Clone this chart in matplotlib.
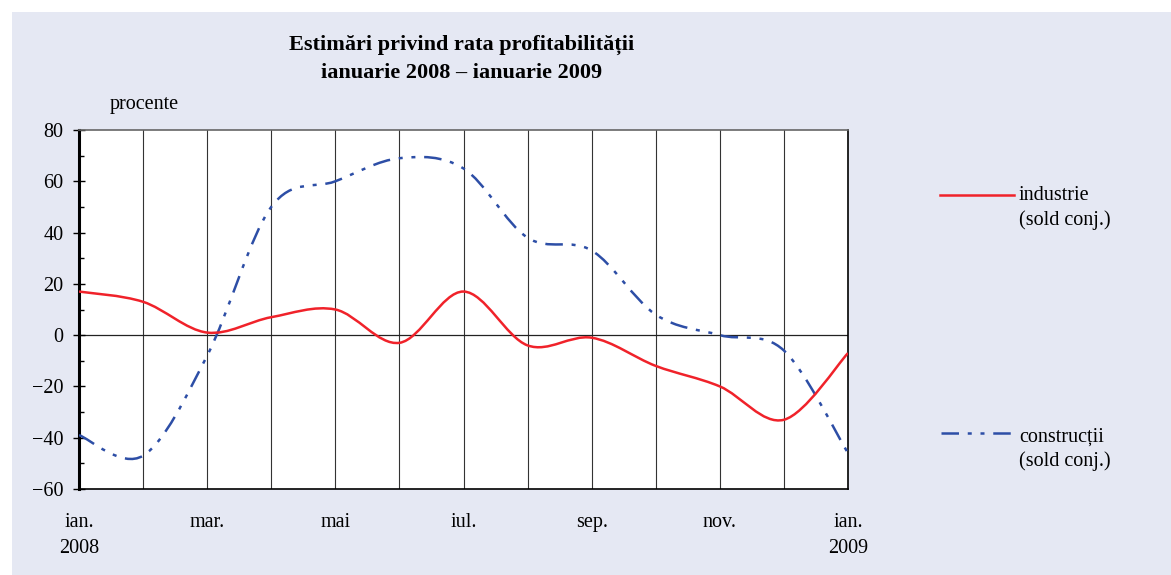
import matplotlib
matplotlib.use("Agg")
import matplotlib.pyplot as plt
import numpy as np
from matplotlib.path import Path
from matplotlib.patches import PathPatch, Rectangle
from matplotlib.lines import Line2D
from matplotlib.ticker import MultipleLocator, FixedLocator

plt.rcParams['font.family'] = ['Liberation Serif', 'DejaVu Serif']

# data: monthly values, ian. 2008 .. ian. 2009
months = np.arange(13)
industrie = [17, 13, 1, 7, 10, -3, 17, -4, -1, -12, -20, -33, -7]
constructii = [-39, -47, -8, 50, 60, 69, 65, 38, 33, 8, 0, -6, -46]
tick_pos = [0, 2, 4, 6, 8, 10, 12]
tick_labels = ['ian.\n2008', 'mar.', 'mai', 'iul.', 'sep.', 'nov.', 'ian.\n2009']

red = '#F0222A'
blue = '#2D4EA6'
bg = '#E5E8F3'


def smooth_path(x, y):
    # Catmull-Rom through the points, written as cubic Bezier segments
    p = np.column_stack([x, y]).astype(float)
    ext = np.vstack([p[0], p, p[-1]])
    verts = [p[0]]
    codes = [Path.MOVETO]
    for i in range(len(p) - 1):
        p0, p1, p2, p3 = ext[i], ext[i + 1], ext[i + 2], ext[i + 3]
        c1 = p1 + (p2 - p0) / 6.0
        c2 = p2 - (p3 - p1) / 6.0
        verts += [c1, c2, p2]
        codes += [Path.CURVE4] * 3
    return Path(verts, codes)


fig = plt.figure(figsize=(11.71, 5.75), dpi=100)
fig.patch.set_facecolor('white')
fig.add_artist(Rectangle((12 / 1171, 0), 1 - 12 / 1171, 1 - 12 / 575,
                         transform=fig.transFigure, facecolor=bg, edgecolor='none', zorder=-10))

ax = fig.add_axes([79 / 1171, 1 - 489 / 575, 769 / 1171, 359 / 575])
ax.set_facecolor('white')
ax.set_xlim(0, 12)
ax.set_ylim(-60, 80)

for m in months[1:-1]:
    ax.axvline(m, color='#333333', lw=0.8, zorder=1)
ax.axhline(0, color='#222222', lw=0.9, zorder=1)

dash = (0, (7, 3.5, 1.6, 3.5, 1.6, 3.5))
ax.add_patch(PathPatch(smooth_path(months, constructii), fill=False, edgecolor=blue,
                       lw=1.8, linestyle=dash, zorder=3))
ax.add_patch(PathPatch(smooth_path(months, industrie), fill=False, edgecolor=red,
                       lw=1.8, zorder=4))

ax.yaxis.set_major_locator(MultipleLocator(20))
ax.yaxis.set_minor_locator(MultipleLocator(10))
ax.tick_params(axis='y', which='major', direction='inout', length=8, width=1, labelsize=14.5, pad=7)
ax.tick_params(axis='y', which='minor', direction='in', length=3.5, width=1)
ax.xaxis.set_major_locator(FixedLocator(tick_pos))
ax.set_xticklabels(tick_labels, fontsize=14.5, linespacing=1.5, va='top')
ax.tick_params(axis='x', length=0, pad=17)

ax.spines['left'].set_linewidth(2.2)
ax.spines['left'].set_color('black')
ax.spines['bottom'].set_linewidth(1.2)
ax.spines['right'].set_linewidth(1.2)
ax.spines['top'].set_linewidth(1.2)
ax.spines['top'].set_color('#666666')

fig.text(462 / 1171, 1 - 45 / 575, 'Estimări privind rata profitabilității',
         ha='center', va='center', fontsize=16, fontweight='bold')
fig.text(462 / 1171, 1 - 73 / 575, 'ianuarie 2008 – ianuarie 2009',
         ha='center', va='center', fontsize=16, fontweight='bold')
fig.text(110 / 1171, 1 - 104 / 575, 'procente', ha='left', va='center', fontsize=14.5)

# legend
fig.add_artist(Line2D([940 / 1171, 1014 / 1171], [1 - 195 / 575] * 2,
                      transform=fig.transFigure, color=red, lw=1.8))
fig.text(1019 / 1171, 1 - 196 / 575, 'industrie', ha='left', va='center', fontsize=14.5)
fig.text(1019 / 1171, 1 - 220 / 575, '(sold conj.)', ha='left', va='center', fontsize=14.5)
fig.add_artist(Line2D([941 / 1171, 1013 / 1171], [1 - 433 / 575] * 2,
                      transform=fig.transFigure, color=blue, lw=1.8, linestyle=dash))
fig.text(1019 / 1171, 1 - 437 / 575, 'construcții', ha='left', va='center', fontsize=14.5)
fig.text(1019 / 1171, 1 - 461 / 575, '(sold conj.)', ha='left', va='center', fontsize=14.5)

fig.savefig('out.png', dpi=100, facecolor=fig.get_facecolor())
